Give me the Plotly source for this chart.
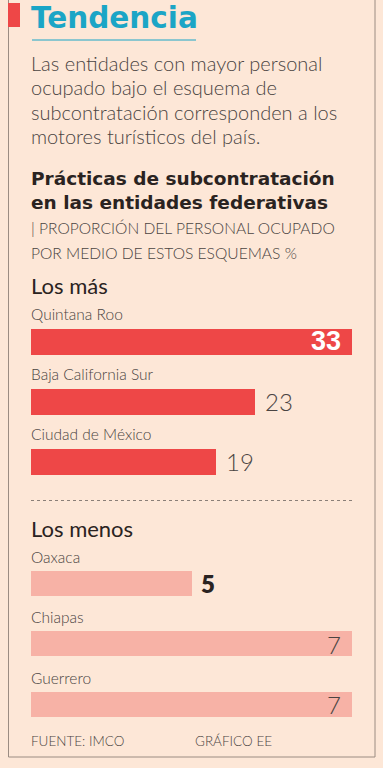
import plotly.graph_objects as go

# ---- data ----
top_states = ["Quintana Roo", "Baja California Sur", "Ciudad de México"]
top_values = [33, 23, 19]
low_states = ["Oaxaca", "Chiapas", "Guerrero"]
low_values = [5, 7, 7]

title = "Tendencia"
intro = ["Las entidades con mayor personal", "ocupado bajo el esquema de",
         "subcontratación corresponden a los", "motores turísticos del país."]
chart_title = ["Prácticas de subcontratación", "en las entidades federativas"]
chart_sub = ["| PROPORCIÓN DEL PERSONAL OCUPADO", "POR MEDIO DE ESTOS ESQUEMAS %"]
source = "FUENTE: IMCO"
credit = "GRÁFICO EE"

W, H = 383, 768
BG = "#fde7d7"
RED = "#ee4747"
PINK = "#f7b2a6"
TEAL = "#1ba5c6"
DARK = "#2a2321"
GREY = "#4a4442"
FONT = "Lato"

def px(x):
    return x / W

def py(y):
    return 1 - y / H

fig = go.Figure()
fig.add_trace(go.Bar(y=top_states, x=top_values, orientation="h",
                     marker=dict(color=RED, line=dict(width=0)), width=0.42,
                     xaxis="x", yaxis="y", hoverinfo="skip"))
fig.add_trace(go.Bar(y=low_states, x=low_values, orientation="h",
                     marker=dict(color=PINK, line=dict(width=0)), width=0.42,
                     xaxis="x2", yaxis="y2", hoverinfo="skip"))

xdom = [px(31), px(352)]
n_top, n_low = len(top_states), len(low_states)
fig.update_layout(
    width=W, height=H, margin=dict(l=0, r=0, t=0, b=0),
    paper_bgcolor=BG, plot_bgcolor="rgba(0,0,0,0)", showlegend=False,
    bargap=0,
    xaxis=dict(domain=xdom, range=[0, top_values[0]], visible=False, fixedrange=True),
    yaxis=dict(domain=[py(491.5), py(311.5)], categoryorder="array",
               categoryarray=top_states, range=[n_top - 0.5, -0.5], visible=False,
               anchor="x", fixedrange=True),
    xaxis2=dict(domain=xdom, range=[3, max(low_values)], visible=False,
                anchor="y2", fixedrange=True),
    yaxis2=dict(domain=[py(734.75), py(553.25)], categoryorder="array",
                categoryarray=low_states, range=[n_low - 0.5, -0.5], visible=False,
                anchor="x2", fixedrange=True),
)

shapes = []
FR = "#9b8c82"
shapes.append(dict(type="line", xref="paper", yref="paper", x0=px(8.5), x1=px(8.5),
                   y0=py(0), y1=py(757), line=dict(color=FR, width=1)))
shapes.append(dict(type="line", xref="paper", yref="paper", x0=px(375), x1=px(375),
                   y0=py(0), y1=py(757), line=dict(color=FR, width=1)))
shapes.append(dict(type="line", xref="paper", yref="paper", x0=px(8.5), x1=px(375),
                   y0=py(757), y1=py(757), line=dict(color=FR, width=1)))
shapes.append(dict(type="rect", xref="paper", yref="paper", x0=px(8), x1=px(20),
                   y0=py(27), y1=py(3), fillcolor=RED, line=dict(width=0)))
shapes.append(dict(type="line", xref="paper", yref="paper", x0=px(32), x1=px(196),
                   y0=py(40), y1=py(40), line=dict(color=TEAL, width=1)))
shapes.append(dict(type="line", xref="paper", yref="paper", x0=px(31), x1=px(352),
                   y0=py(500.5), y1=py(500.5), line=dict(color="#8a7f78", width=1, dash="dot")))
fig.update_layout(shapes=shapes)

ann = []

def text(x, y, s, size, color=DARK, weight=400, family=FONT, anchor="left"):
    ann.append(dict(x=px(x), y=py(y), xref="paper", yref="paper", text=s,
                    showarrow=False, xanchor=anchor, yanchor="middle", align="left",
                    font=dict(family=family, size=size, color=color, weight=weight)))

text(29, 18, title, 29.5, TEAL, 700, "DejaVu Sans")
for i, line in enumerate(intro):
    text(29, 63 + i * 24.3, line, 20, GREY, 300)
text(29, 190, "<br>".join(chart_title), 18.5, DARK, 700, "DejaVu Sans")
for i, line in enumerate(chart_sub):
    text(29, 228 + i * 25, line, 15.6, GREY, 300)
text(29, 286, "Los más", 22, DARK, 400)
text(29, 528, "Los menos", 22, DARK, 400)
text(29, 741, source, 13.5, GREY, 300)
text(193, 741, credit, 13.5, GREY, 300)

for s in top_states:
    ann.append(dict(x=px(29), xref="paper", y=s, yref="y", yshift=27, text=s,
                    showarrow=False, xanchor="left", yanchor="middle",
                    font=dict(family=FONT, size=15.5, color=GREY, weight=300)))
for s in low_states:
    ann.append(dict(x=px(29), xref="paper", y=s, yref="y2", yshift=27, text=s,
                    showarrow=False, xanchor="left", yanchor="middle",
                    font=dict(family=FONT, size=15.5, color=GREY, weight=300)))

xmax_top = top_values[0]
for s, v in zip(top_states, top_values):
    if v >= xmax_top:
        ann.append(dict(x=v, y=s, xref="x", yref="y", text=str(v), showarrow=False,
                        xanchor="right", yanchor="middle", xshift=-9,
                        font=dict(family="Liberation Sans", size=27, color="white", weight=700)))
    else:
        ann.append(dict(x=v, y=s, xref="x", yref="y", text=str(v), showarrow=False,
                        xanchor="left", yanchor="middle", xshift=8,
                        font=dict(family=FONT, size=24, color=GREY, weight=300)))
xmax_low = max(low_values)
for s, v in zip(low_states, low_values):
    if v >= xmax_low:
        ann.append(dict(x=v, y=s, xref="x2", yref="y2", text=str(v), showarrow=False,
                        xanchor="right", yanchor="middle", xshift=-9,
                        font=dict(family=FONT, size=24, color=GREY, weight=300)))
    else:
        ann.append(dict(x=v, y=s, xref="x2", yref="y2", text=str(v), showarrow=False,
                        xanchor="left", yanchor="middle", xshift=7,
                        font=dict(family=FONT, size=24, color=DARK, weight=800)))
fig.update_layout(annotations=ann)

fig.write_html("out.html", config={"displayModeBar": False},
               post_script="document.body.style.margin='0';document.body.style.overflow='hidden';")
